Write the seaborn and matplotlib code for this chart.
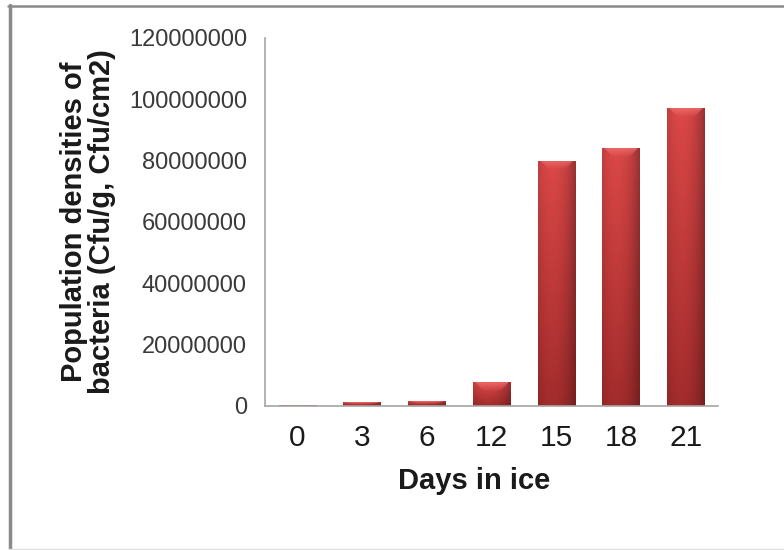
import numpy as np
import matplotlib
matplotlib.use("Agg")
import matplotlib.pyplot as plt
import seaborn as sns
import pandas as pd
from matplotlib.lines import Line2D

# data
days = ["0", "3", "6", "12", "15", "18", "21"]
density = [300000, 1300000, 1600000, 7700000, 80000000, 84000000, 97000000]
y_ticks = [0, 20000000, 40000000, 60000000, 80000000, 100000000, 120000000]

sns.set_theme(style="white")
plt.rcParams['font.family'] = ['Liberation Sans', 'DejaVu Sans']

fig = plt.figure(figsize=(7.84, 5.5), dpi=100)
ax = fig.add_axes([0.338, 0.262, 0.578, 0.669])

df = pd.DataFrame({"day": days, "density": density})
sns.barplot(data=df, x="day", y="density", color="#c63838", saturation=1,
            width=0.58, ax=ax, edgecolor="none")

ax.set_xlim(-0.5, len(days) - 0.5)
ax.set_ylim(0, y_ticks[-1])

# shaded "3D" look for each bar, with a lighter bevel on top
top_col = np.array([0.86, 0.28, 0.28])
bot_col = np.array([0.64, 0.17, 0.17])
bevel_col = np.array([0.94, 0.42, 0.42])
nx = 60
xs = np.linspace(0, 1, nx)
hprof = 1.0 - 0.30 * ((xs - 0.38) / 0.62) ** 2
px_per_unit = ax.bbox.height / y_ticks[-1]
for p in list(ax.patches):
    x0, y0, w, h = p.get_x(), p.get_y(), p.get_width(), p.get_height()
    if h <= 0:
        continue
    ny = max(int(h * px_per_unit * 2), 4)
    t = np.linspace(1, 0, ny)[:, None, None]
    col = bot_col + (top_col - bot_col) * t
    img = col * hprof[None, :, None]
    bev = min(9, 0.45 * h * px_per_unit) / (h * px_per_unit)
    ys = np.linspace(0, 1, ny)  # 0 at top
    for i, yy in enumerate(ys):
        if yy < bev:
            f = yy / bev
            inset = 0.06 + 0.22 * f
            mask = (xs > inset) & (xs < 1 - inset)
            a = 0.85 * (1 - f)
            img[i, mask] = img[i, mask] * (1 - a) + bevel_col * a
    img = np.clip(img, 0, 1)
    im = ax.imshow(img, extent=[x0, x0 + w, y0, y0 + h], aspect="auto",
                   interpolation="bilinear", zorder=p.get_zorder() + 0.1)
    im.set_clip_path(p)

ax.set_xlim(-0.5, len(days) - 0.5)
ax.set_ylim(0, y_ticks[-1])

# axes styling (Excel-like)
axis_gray = "#a6a6a6"
for s in ["top", "right"]:
    ax.spines[s].set_visible(False)
for s in ["left", "bottom"]:
    ax.spines[s].set_color(axis_gray)
    ax.spines[s].set_linewidth(1.2)

ax.set_yticks(y_ticks)
ax.set_yticklabels([str(v) for v in y_ticks])
ax.tick_params(axis="y", which="major", direction="out", length=4, width=1.2,
               color=axis_gray, labelsize=17, labelcolor="#3a3a3a", pad=9)

ax.set_xticks(range(len(days)))
ax.set_xticklabels(days)
ax.set_xticks(np.arange(-0.5, len(days), 1.0), minor=True)
ax.tick_params(axis="x", which="major", length=0, labelsize=21.5,
               labelcolor="#1a1a1a", pad=13)
ax.tick_params(axis="x", which="minor", direction="out", length=6, width=1.2,
               color=axis_gray)

ax.set_xlabel("Days in ice", fontsize=21, fontweight="bold", color="#1a1a1a")
ax.xaxis.set_label_coords(0.461, -0.165)
ax.set_ylabel("Population densities of\nbacteria (Cfu/g, Cfu/cm2)", fontsize=21,
              fontweight="bold", color="#1a1a1a", linespacing=1.0)
ax.yaxis.set_label_coords(-0.328, 0.5)

# frame around the picture
fig.add_artist(Line2D([9.5 / 784, 9.5 / 784], [0, 1 - 5 / 550], transform=fig.transFigure,
                      color="#8a8a8a", lw=2.5))
fig.add_artist(Line2D([8 / 784, 1], [1 - 6 / 550, 1 - 6 / 550], transform=fig.transFigure,
                      color="#8a8a8a", lw=1.8))
fig.add_artist(Line2D([8 / 784, 1], [1.5 / 550, 1.5 / 550], transform=fig.transFigure,
                      color="#e0e0e0", lw=1.0))

fig.savefig("out.png", dpi=100)
